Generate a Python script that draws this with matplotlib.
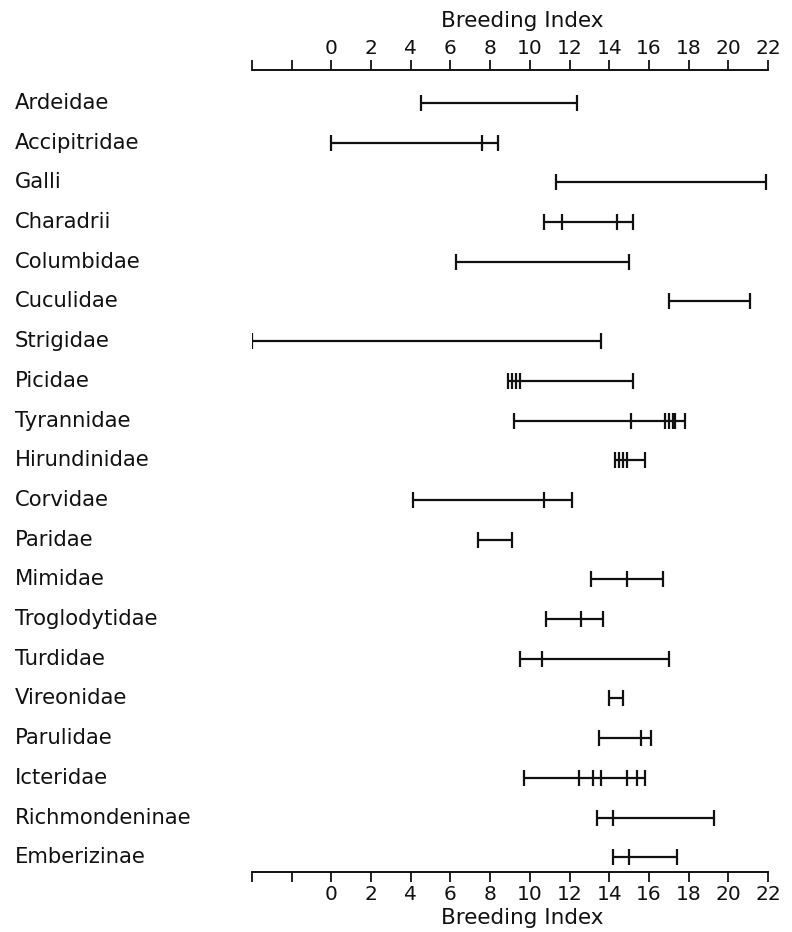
import matplotlib
matplotlib.use("Agg")
import matplotlib.pyplot as plt
import matplotlib.transforms as mtransforms

families = ["Ardeidae", "Accipitridae", "Galli", "Charadrii", "Columbidae",
            "Cuculidae", "Strigidae", "Picidae", "Tyrannidae", "Hirundinidae",
            "Corvidae", "Paridae", "Mimidae", "Troglodytidae", "Turdidae",
            "Vireonidae", "Parulidae", "Icteridae", "Richmondeninae", "Emberizinae"]

# breeding index values of the species in each family (marks along each range)
values = [
    [4.5, 12.4],
    [0.0, 7.6, 8.4],
    [11.3, 21.9],
    [10.7, 11.6, 14.4, 15.2],
    [6.3, 15.0],
    [17.0, 21.1],
    [-4.0, 13.6],
    [8.9, 9.1, 9.3, 9.5, 15.2],
    [9.2, 15.1, 16.8, 17.0, 17.2, 17.3, 17.8],
    [14.3, 14.5, 14.7, 14.9, 15.8],
    [4.1, 10.7, 12.1],
    [7.4, 9.1],
    [13.1, 14.9, 16.7],
    [10.8, 12.6, 13.7],
    [9.5, 10.6, 17.0],
    [14.0, 14.7],
    [13.5, 15.6, 16.1],
    [9.7, 12.5, 13.2, 13.6, 14.9, 15.4, 15.8],
    [13.4, 14.2, 19.3],
    [14.2, 15.0, 17.4],
]

tick_values = [-4, -2, 0, 2, 4, 6, 8, 10, 12, 14, 16, 18, 20, 22]
tick_labels = ["", "", "0", "2", "4", "6", "8", "10", "12", "14", "16", "18", "20", "22"]
axis_title = "Breeding Index"

W, H = 792, 932
fig = plt.figure(figsize=(W / 100, H / 100), dpi=100)
ax = fig.add_axes([252 / W, 1 - 872 / H, 516 / W, 802 / H])

ink = "#111111"
for i, vals in enumerate(values):
    ax.plot([min(vals), max(vals)], [i, i], color=ink, lw=1.6, solid_capstyle="butt")
    ax.plot(vals, [i] * len(vals), linestyle="none", marker="|", markersize=12,
            mew=1.6, color=ink)

ax.set_xlim(-4, 22)
ax.set_ylim(19.37, -0.83)
ax.set_yticks([])
for s in ["left", "right"]:
    ax.spines[s].set_visible(False)
for s in ["top", "bottom"]:
    ax.spines[s].set_linewidth(1.4)
    ax.spines[s].set_color(ink)

ax.set_xticks(tick_values)
ax.set_xticklabels(tick_labels)
ax.tick_params(axis="x", top=True, bottom=True, labeltop=True, labelbottom=True,
               direction="out", length=7, width=1.3, color=ink,
               labelsize=14.5, pad=2, labelcolor=ink)

trans = mtransforms.blended_transform_factory(fig.transFigure, ax.transData)
for i, name in enumerate(families):
    ax.text(15 / W, i, name, transform=trans, ha="left", va="center",
            fontsize=15.2, color=ink)

fig.text(522 / W, 1 - 21 / H, axis_title, ha="center", va="center", fontsize=15.5, color=ink)
fig.text(522 / W, 1 - 918 / H, axis_title, ha="center", va="center", fontsize=15.5, color=ink)

fig.savefig("out.png", dpi=100, facecolor="white")
